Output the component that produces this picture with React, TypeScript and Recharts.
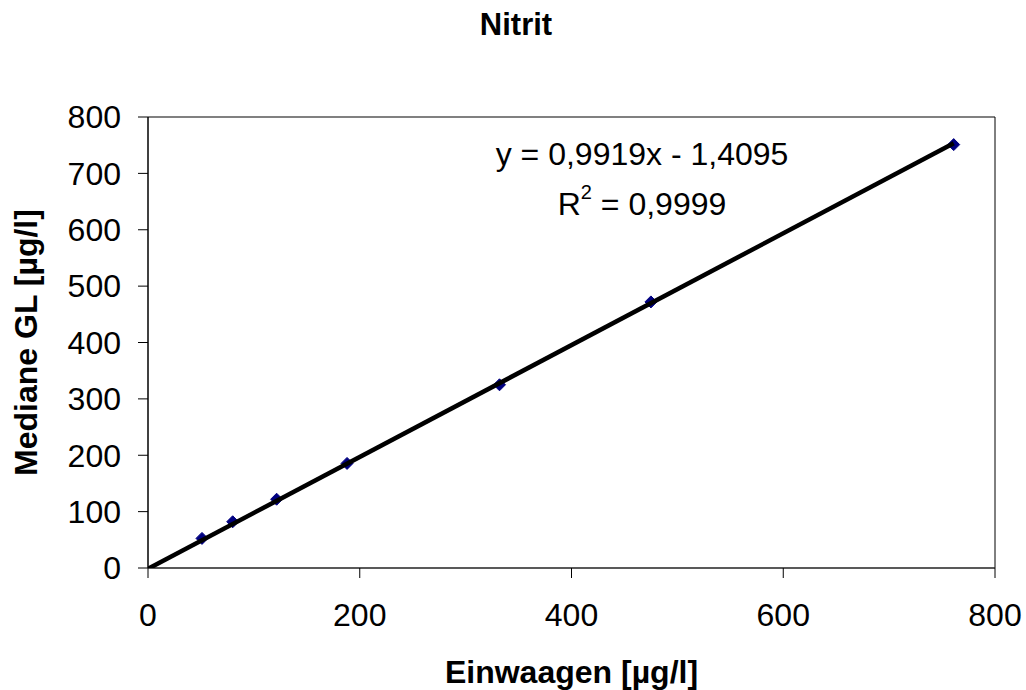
import React from 'react';
import { ScatterChart, Scatter, XAxis, YAxis, ReferenceLine } from 'recharts';

// Nitrite: weighed-in concentration vs. median of reported results
const einwaagen = [51, 80, 121.5, 188, 332, 475, 761];
const mediane = [52.5, 82, 122, 185.5, 325, 472, 751];

const xTicks = [0, 200, 400, 600, 800];
const yTicks = [0, 100, 200, 300, 400, 500, 600, 700, 800];

// Linear regression reported for the series
const slope = 0.9919;
const intercept = -1.4095;
const rSquared = 0.9999;

const points = einwaagen.map((x, i) => ({ x, y: mediane[i] }));
const xMax = Math.max(...einwaagen);
const trend = [
  { x: 0, y: intercept },
  { x: xMax, y: slope * xMax + intercept },
];

const fmt = (v: number) => v.toFixed(4).replace('.', ',');

const FONT = '"Liberation Sans", Arial, Helvetica, sans-serif';

const Diamond = (props: any) => {
  const { cx, cy } = props;
  const r = 6;
  return (
    <polygon
      points={`${cx},${cy - r} ${cx + r},${cy} ${cx},${cy + r} ${cx - r},${cy}`}
      fill="#000080"
      stroke="#000080"
      strokeWidth={1}
    />
  );
};

const NoMarker = () => <g />;

const XTitle = (props: any) => {
  const { x, y, width } = props.viewBox;
  return (
    <text x={x + width / 2} y={y + 115} textAnchor="middle" fontSize={32} fontWeight="bold" fill="#000" fontFamily={FONT}>
      Einwaagen [µg/l]
    </text>
  );
};

const YTitle = (props: any) => {
  const { y, height } = props.viewBox;
  const cx = 37;
  const cy = y + height / 2;
  return (
    <text
      x={cx}
      y={cy}
      transform={`rotate(-90 ${cx} ${cy})`}
      textAnchor="middle"
      fontSize={32}
      fontWeight="bold"
      fill="#000"
      fontFamily={FONT}
    >
      Mediane GL [µg/l]
    </text>
  );
};

export default function App() {
  return (
    <div style={{ position: 'absolute', left: 0, top: 0, width: 1026, height: 690, background: '#fff', fontFamily: FONT }}>
      <ScatterChart width={1026} height={690} margin={{ top: 117, right: 31, bottom: 0, left: 0 }}>
        <XAxis
          type="number"
          dataKey="x"
          domain={[0, 800]}
          ticks={xTicks}
          allowDataOverflow
          height={122}
          tickSize={10}
          tickMargin={25}
          stroke="#000"
          tick={{ fontSize: 32, fill: '#000', fontFamily: FONT }}
          tickLine={{ stroke: '#000' }}
          axisLine={{ stroke: '#222', strokeWidth: 1.5 }}
          label={{ content: XTitle }}
        />
        <YAxis
          type="number"
          dataKey="y"
          domain={[0, 800]}
          ticks={yTicks}
          allowDataOverflow
          width={148}
          tickSize={10}
          tickMargin={17}
          stroke="#000"
          tick={{ fontSize: 32, fill: '#000', fontFamily: FONT }}
          tickLine={{ stroke: '#000' }}
          axisLine={{ stroke: '#000', strokeWidth: 1.5 }}
          label={{ content: YTitle }}
        />
        <ReferenceLine y={800} stroke="#808080" strokeWidth={2} />
        <ReferenceLine x={800} stroke="#000" strokeWidth={1} />
        <Scatter data={points} shape={Diamond} isAnimationActive={false} />
        <Scatter
          data={trend}
          line={{ stroke: '#000', strokeWidth: 4.5 }}
          shape={NoMarker}
          isAnimationActive={false}
        />
      </ScatterChart>
      <svg
        width={1026}
        height={690}
        style={{ position: 'absolute', left: 0, top: 0, pointerEvents: 'none' }}
      >
        <text x={516} y={35} textAnchor="middle" fontSize={31} fontWeight="bold" fill="#000" fontFamily={FONT}>
          Nitrit
        </text>
        <text x={642} y={165} textAnchor="middle" fontSize={32} fill="#000" fontFamily={FONT}>
          {`y = ${fmt(slope)}x - ${fmt(Math.abs(intercept))}`}
        </text>
        <text x={642} y={215} textAnchor="middle" fontSize={32} fill="#000" fontFamily={FONT}>
          R
          <tspan fontSize={20} dy={-16}>2</tspan>
          <tspan dy={16}>{` = ${fmt(rSquared)}`}</tspan>
        </text>
      </svg>
    </div>
  );
}
